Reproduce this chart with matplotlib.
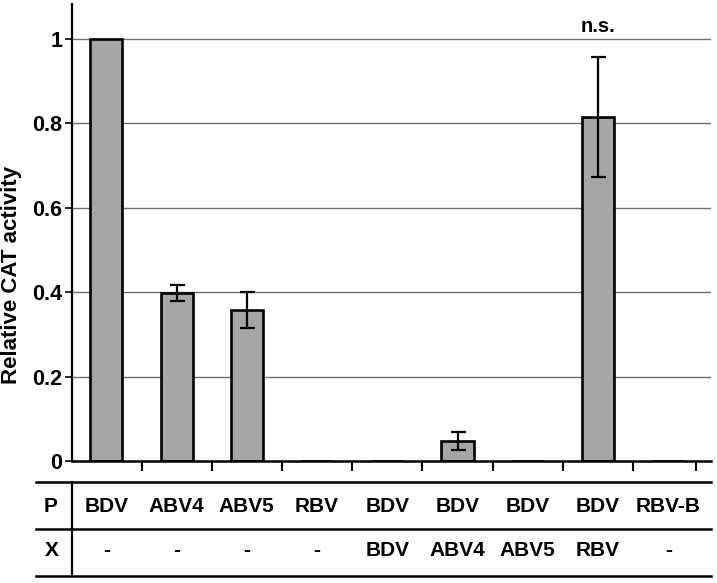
import numpy as np
import matplotlib
matplotlib.use("Agg")
import matplotlib.pyplot as plt
from matplotlib.lines import Line2D
from matplotlib.transforms import blended_transform_factory

# data
promoter = ["BDV", "ABV4", "ABV5", "RBV", "BDV", "BDV", "BDV", "BDV", "RBV-B"]
x_gene = ["-", "-", "-", "-", "BDV", "ABV4", "ABV5", "RBV", "-"]
activity = [1.0, 0.398, 0.358, 0.0, 0.0, 0.047, 0.0, 0.815, 0.0]
err = [0.0, 0.02, 0.043, 0.0, 0.0, 0.022, 0.0, 0.143, 0.0]
has_err = [False, True, True, False, False, True, False, True, False]
yticks = [0, 0.2, 0.4, 0.6, 0.8, 1]
ytick_labels = ["0", "0.2", "0.4", "0.6", "0.8", "1"]

plt.rcParams['font.family'] = ['Liberation Sans', 'DejaVu Sans']
plt.rcParams['font.weight'] = 'bold'

fig = plt.figure(figsize=(7.17, 5.83), dpi=100)
ax = fig.add_axes([72/717, 122/583, (711-72)/717, (461-4)/583])

x = np.arange(len(promoter))
ax.bar(x, activity, width=0.456, color="#a6a6a6", edgecolor="black",
       linewidth=1.9, zorder=3)
xe = x[np.array(has_err)]
ye = np.array(activity)[np.array(has_err)]
ee = np.array(err)[np.array(has_err)]
ax.errorbar(xe, ye, yerr=ee, fmt="none", ecolor="black", elinewidth=1.6,
            capsize=5.4, capthick=1.6, zorder=4)

ax.text(x[7], 1.03, "n.s.", ha="center", va="center", fontsize=14.5,
        fontweight="bold")

ax.set_xlim(-0.49, 8.61)
ax.set_ylim(0, 1.083)
ax.set_yticks(yticks)
ax.set_yticklabels(ytick_labels, fontsize=15.5, fontweight="bold")
ax.set_xticks(list(np.arange(0.5, 8, 1.0)) + [8.4])
ax.set_xticklabels([])
ax.tick_params(axis="x", direction="out", length=7, width=1.5)
ax.tick_params(axis="y", direction="out", length=5, width=1.2, pad=2)
for yv in yticks[1:]:
    ax.axhline(yv, color="#707070", linewidth=1.0, zorder=1)
for side in ["top", "right"]:
    ax.spines[side].set_visible(False)
ax.spines["left"].set_linewidth(1.6)
ax.spines["bottom"].set_linewidth(1.8)
ax.spines["bottom"].set_zorder(5)

ax.set_ylabel("Relative CAT activity", fontsize=16, fontweight="bold")
ax.yaxis.set_label_coords(-0.079, 0.407)

# table under the axis
tr = blended_transform_factory(ax.transData, fig.transFigure)
row_p = 1 - 506/583
row_x = 1 - 551/583
for i in range(len(promoter)):
    ax.text(x[i], row_p, promoter[i], transform=tr, ha="center", va="center",
            fontsize=15, fontweight="bold", clip_on=False)
    ax.text(x[i], row_x, x_gene[i], transform=tr, ha="center", va="center",
            fontsize=15, fontweight="bold", clip_on=False)
fig.text(51/717, row_p, "P", ha="center", va="center", fontsize=15,
         fontweight="bold")
fig.text(52/717, row_x, "X", ha="center", va="center", fontsize=15,
         fontweight="bold")
for yy in [1 - 482/583, 1 - 529/583, 1 - 576/583]:
    fig.add_artist(Line2D([36/717, 711/717], [yy, yy], color="black",
                          linewidth=1.8, transform=fig.transFigure))
fig.add_artist(Line2D([72/717, 72/717], [1 - 482/583, 1 - 576/583],
                      color="black", linewidth=1.6, transform=fig.transFigure))

fig.savefig("out.png", dpi=100)
